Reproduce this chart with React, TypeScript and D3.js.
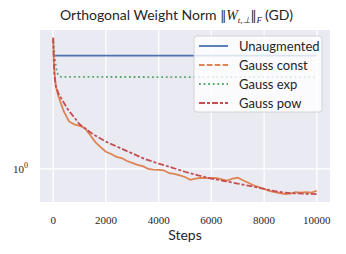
import * as d3 from 'd3';

const W = 346;
const H = 254;

// steps and values
const unaugSteps = [0, 10000];
const unaugValues = [5.11, 5.11];

const constSteps = [
  0, 20, 50, 100, 200, 300, 400, 600, 800, 1000, 1200, 1400, 1600, 1800, 2000,
  2200, 2400, 2600, 2800, 3000, 3200, 3400, 3600, 3800, 4000, 4200, 4400, 4600,
  4800, 5000, 5200, 5400, 5600, 5800, 6000, 6200, 6400, 6600, 6800, 7000, 7200,
  7400, 7600, 7800, 8000, 8200, 8400, 8600, 8800, 9000, 9200, 9400, 9600, 9800,
  10000,
];
const constValues = [
  6.6, 5.0, 4.0, 3.3, 2.85, 2.55, 2.3, 1.98, 1.9, 1.86, 1.8, 1.63, 1.47, 1.37,
  1.28, 1.24, 1.19, 1.17, 1.12, 1.09, 1.06, 1.04, 1.0, 0.99, 0.985, 0.98, 0.94,
  0.93, 0.91, 0.89, 0.855, 0.87, 0.88, 0.875, 0.88, 0.875, 0.86, 0.845, 0.87,
  0.88, 0.85, 0.82, 0.79, 0.77, 0.75, 0.73, 0.715, 0.705, 0.695, 0.7, 0.715,
  0.71, 0.715, 0.71, 0.73,
];

const expSteps = [0, 50, 100, 150, 200, 300, 10000];
const expValues = [6.3, 5.2, 4.4, 4.0, 3.85, 3.76, 3.74];

const powSteps = [
  0, 25, 50, 100, 200, 400, 600, 800, 1000, 1500, 2000, 2500, 3000, 3500, 4000,
  4500, 5000, 5500, 6000, 6500, 7000, 7500, 8000, 8500, 9000, 9500, 10000,
];
const powValues = [
  6.6, 4.6, 3.8, 3.3, 2.95, 2.6, 2.3, 2.1, 1.9, 1.65, 1.48, 1.36, 1.25, 1.15,
  1.08, 1.02, 0.96, 0.91, 0.87, 0.84, 0.81, 0.78, 0.75, 0.72, 0.705, 0.7, 0.695,
];

const xTicks = [0, 2000, 4000, 6000, 8000, 10000];

const series = [
  { name: 'Unaugmented', steps: unaugSteps, values: unaugValues, color: '#4C72B0', dash: '', legendDash: '' },
  { name: 'Gauss const', steps: constSteps, values: constValues, color: '#DD8452', dash: '', legendDash: '5.5,2.4' },
  { name: 'Gauss exp', steps: expSteps, values: expValues, color: '#55A868', dash: '1.8,2.8', legendDash: '1.8,2.8' },
  { name: 'Gauss pow', steps: powSteps, values: powValues, color: '#C44E52', dash: '6,2,3,2', legendDash: '6,2,3,2' },
];

const left = 40;
const right = 330;
const top = 30;
const bottom = 202;

export default function App() {
  const x = d3.scaleLinear().domain([-500, 10500]).range([left, right]);

  const all = series.flatMap((s) => s.values);
  const lo = Math.log10(d3.min(all) as number);
  const hi = Math.log10(d3.max(all) as number);
  const pad = (hi - lo) * 0.05;
  const y = d3
    .scaleLog()
    .domain([10 ** (lo - pad), 10 ** (hi + pad)])
    .range([bottom, top]);

  const line = d3
    .line<[number, number]>()
    .x((d) => x(d[0]))
    .y((d) => y(d[1]));

  const ink = '#262626';
  const sans = 'Lato, sans-serif';
  const serif = 'Liberation Serif, serif';

  return (
    <svg
      width={W}
      height={H}
      style={{ position: 'absolute', left: 0, top: 0, background: '#fff' }}
    >
      <defs>
        <clipPath id="plotclip">
          <rect x={left} y={top} width={right - left} height={bottom - top} />
        </clipPath>
      </defs>
      <rect x={left} y={top} width={right - left} height={bottom - top} fill="#EAEAF2" />
      {xTicks.map((t) => (
        <line key={t} x1={x(t)} x2={x(t)} y1={top} y2={bottom} stroke="#fff" strokeWidth={1.2} />
      ))}
      <line x1={left} x2={right} y1={y(1)} y2={y(1)} stroke="#fff" strokeWidth={1.2} />

      <g clipPath="url(#plotclip)">
        {series.map((s) => (
          <path
            key={s.name}
            d={line(s.steps.map((st, i) => [st, s.values[i]])) || ''}
            fill="none"
            stroke={s.color}
            strokeWidth={1.8}
            strokeDasharray={s.dash}
          />
        ))}
      </g>

      {xTicks.map((t) => (
        <text key={t} x={x(t)} y={224} textAnchor="middle" fontFamily={serif} fontSize={11} fill={ink}>
          {t}
        </text>
      ))}
      <text x={28} y={y(1) + 4} textAnchor="end" fontFamily={serif} fontSize={11} fill={ink}>
        10
        <tspan dy={-5} fontSize={8}>0</tspan>
      </text>
      <text x={(left + right) / 2} y={240} textAnchor="middle" fontFamily={sans} fontSize={14} fill={ink}>
        Steps
      </text>

      <text x={60} y={20} fontFamily={sans} fontSize={14} fill={ink}>
        Orthogonal Weight Norm{' '}
        <tspan fontFamily="DejaVu Serif, serif" fontSize={12}>‖</tspan>
        <tspan fontFamily={serif} fontStyle="italic">W</tspan>
        <tspan fontFamily={serif} fontStyle="italic" fontSize={9} dy={3}>t,⊥</tspan>
        <tspan fontFamily="DejaVu Serif, serif" fontSize={12} dy={-3}>‖</tspan>
        <tspan fontFamily={serif} fontStyle="italic" fontSize={9} dy={3}>F</tspan>
        <tspan dy={-3} dx={3}>(GD)</tspan>
      </text>

      <g>
        <rect
          x={194}
          y={36}
          width={128}
          height={76}
          rx={3}
          fill="#fff"
          fillOpacity={0.8}
          stroke="#CCCCCC"
          strokeWidth={0.8}
        />
        {series.map((s, i) => {
          const cy = 46 + i * 19;
          return (
            <g key={s.name}>
              <line x1={199} x2={228} y1={cy} y2={cy} stroke={s.color} strokeWidth={1.8} strokeDasharray={s.legendDash} />
              <text x={239} y={cy + 4.5} fontFamily={sans} fontSize={13} fill={ink}>
                {s.name}
              </text>
            </g>
          );
        })}
      </g>
    </svg>
  );
}
